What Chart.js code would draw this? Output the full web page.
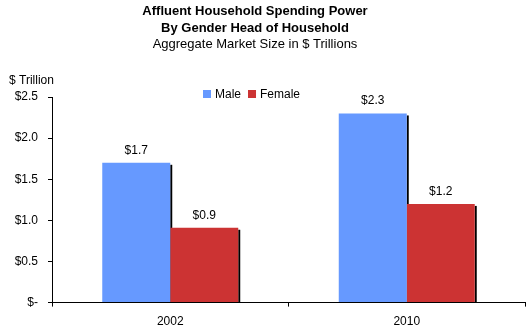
<!DOCTYPE html>
<html>
<head>
<meta charset="utf-8">
<script src="https://cdn.jsdelivr.net/npm/chart.js@4"></script>
<style>
  html, body { margin: 0; padding: 0; background: #fff; }
  #wrap { width: 528px; height: 329px; }
</style>
</head>
<body>
<div id="wrap"><canvas id="spendChart" width="528" height="329"></canvas></div>
<script>
// Chart values
const years = ['2002', '2010'];
const maleSpend = [1.7, 2.3];
const femaleSpend = [0.91, 1.2];
const yTicks = [0, 0.5, 1.0, 1.5, 2.0, 2.5];

const titleLines = ['Affluent Household Spending Power', 'By Gender Head of Household'];
const subTitle = 'Aggregate Market Size in $ Trillions';
const axisLabel = '$ Trillion';

const FONT = '"Liberation Sans", Arial, sans-serif';

function money(v) {
    return v === 0 ? '$-' : '$' + v.toFixed(1);
}

// Titles, unit label and legend drawn at fixed spots like the original
const headerPlugin = {
    id: 'header',
    afterDraw(chart) {
        const ctx = chart.ctx;
        ctx.save();
        ctx.fillStyle = '#000';
        ctx.textAlign = 'center';
        ctx.textBaseline = 'alphabetic';
        ctx.font = 'bold 13px ' + FONT;
        ctx.fillText(titleLines[0], 255, 15);
        ctx.fillText(titleLines[1], 255, 32);
        ctx.font = '13px ' + FONT;
        ctx.fillText(subTitle, 255, 48);

        ctx.font = '12px ' + FONT;
        ctx.textAlign = 'left';
        ctx.fillText(axisLabel, 9, 84);

        // legend
        let x = 203;
        chart.data.datasets.forEach(ds => {
            ctx.fillStyle = ds.backgroundColor;
            ctx.fillRect(x, 90, 8, 8);
            ctx.fillStyle = '#000';
            ctx.fillText(ds.label, x + 12, 98);
            x += 12 + ctx.measureText(ds.label).width + 7;
        });
        ctx.restore();
    }
};

// Black drop shadow on the right of every bar
const shadowPlugin = {
    id: 'barShadow',
    beforeDatasetsDraw(chart) {
        const ctx = chart.ctx;
        ctx.save();
        ctx.fillStyle = '#000';
        chart.data.datasets.forEach((ds, i) => {
            chart.getDatasetMeta(i).data.forEach(bar => {
                const right = bar.x + bar.width / 2;
                ctx.fillRect(right, bar.y + 2, 2, bar.base - bar.y - 2);
            });
        });
        ctx.restore();
    }
};

// Value labels above bars
const valuePlugin = {
    id: 'barValues',
    afterDatasetsDraw(chart) {
        const ctx = chart.ctx;
        ctx.save();
        ctx.font = '12px ' + FONT;
        ctx.fillStyle = '#000';
        ctx.textAlign = 'center';
        ctx.textBaseline = 'alphabetic';
        chart.data.datasets.forEach((ds, i) => {
            chart.getDatasetMeta(i).data.forEach((bar, j) => {
                ctx.fillText(money(ds.data[j]), bar.x, bar.y - 9);
            });
        });
        ctx.restore();
    }
};

const ctx = document.getElementById('spendChart').getContext('2d');
const chart = new Chart(ctx, {
    type: 'bar',
    data: {
        labels: years,
        datasets: [
            {
                label: 'Male',
                backgroundColor: '#6699FF',
                data: maleSpend
            },
            {
                label: 'Female',
                backgroundColor: '#CC3333',
                data: femaleSpend
            }
        ]
    },
    options: {
        responsive: false,
        animation: false,
        events: [],
        layout: {
            padding: { top: 97, left: 0, right: 3, bottom: -8 }
        },
        datasets: {
            bar: {
                categoryPercentage: 0.575,
                barPercentage: 1.0
            }
        },
        scales: {
            x: {
                grid: {
                    display: true,
                    drawOnChartArea: false,
                    tickLength: 4,
                    color: '#000'
                },
                border: { color: '#000', width: 1 },
                ticks: {
                    color: '#000',
                    padding: 8,
                    font: { family: FONT, size: 12 }
                }
            },
            y: {
                min: 0,
                max: 2.5,
                afterFit(scale) { scale.width = 52; },
                afterBuildTicks(scale) {
                    scale.ticks = yTicks.map(v => ({ value: v }));
                },
                grid: {
                    display: true,
                    drawOnChartArea: false,
                    tickLength: 4,
                    color: '#000'
                },
                border: { color: '#000', width: 1 },
                ticks: {
                    color: '#000',
                    padding: 10,
                    font: { family: FONT, size: 12 },
                    callback: v => money(v)
                }
            }
        },
        plugins: {
            legend: { display: false },
            title: { display: false },
            tooltip: { enabled: false }
        }
    },
    plugins: [shadowPlugin, valuePlugin, headerPlugin]
});
</script>
</body>
</html>
